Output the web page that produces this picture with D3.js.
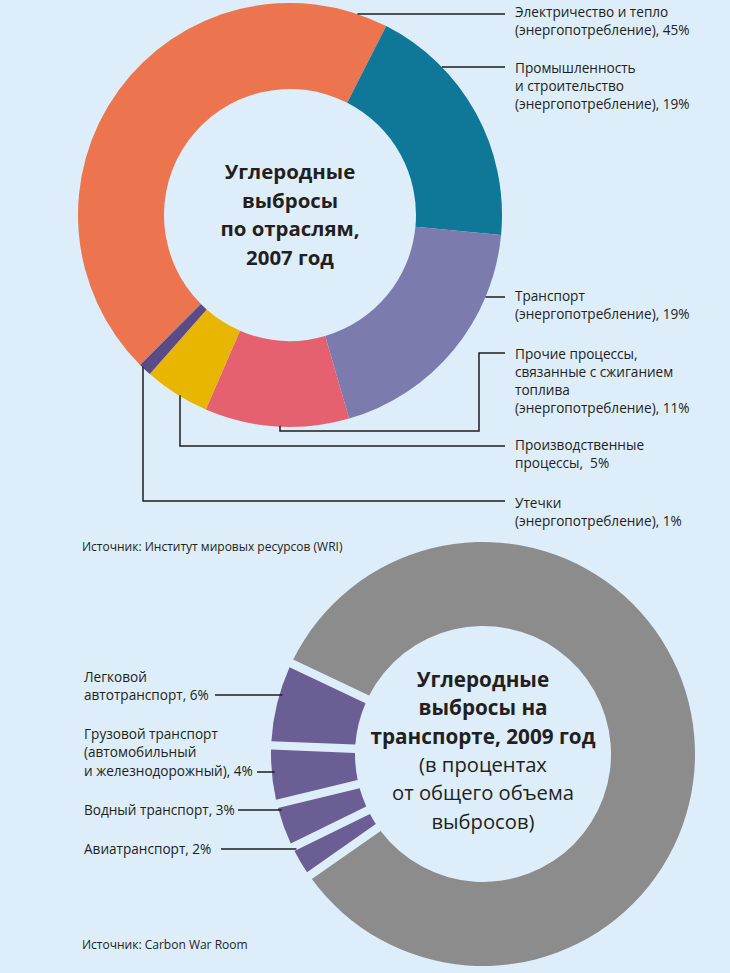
<!DOCTYPE html>
<html>
<head>
<meta charset="utf-8">
<script src="https://cdn.jsdelivr.net/npm/d3@7"></script>
<style>
html,body{margin:0;padding:0;background:#ddedfa;}
svg{display:block;}
text{font-family:"Open Sans",sans-serif;fill:#231f20;white-space:pre;}
</style>
</head>
<body>
<div id="chart"></div>
<script>
// ---------- DATA ----------
const sectorNames = ["Электричество и тепло", "Промышленность и строительство", "Транспорт",
  "Прочие процессы, связанные с сжиганием топлива", "Производственные процессы", "Утечки"];
const sectorShares = [45, 19, 19, 11, 5, 1];
const sectorLabelLines = [
  ["Электричество и тепло", "(энергопотребление), 45%"],
  ["Промышленность", "и строительство", "(энергопотребление), 19%"],
  ["Транспорт", "(энергопотребление), 19%"],
  ["Прочие процессы,", "связанные с сжиганием", "топлива", "(энергопотребление), 11%"],
  ["Производственные", "процессы,  5%"],
  ["Утечки", "(энергопотребление), 1%"]
];
const sectorTitle = ["Углеродные", "выбросы", "по отраслям,", "2007 год"];
const sectorSource = "Источник: Институт мировых ресурсов (WRI)";

const transportNames = ["Легковой автотранспорт", "Грузовой транспорт", "Водный транспорт", "Авиатранспорт", "Прочие выбросы"];
const transportShares = [6, 4, 3, 2, 85];
const transportLabelLines = [
  ["Легковой", "автотранспорт, 6%"],
  ["Грузовой транспорт", "(автомобильный", "и железнодорожный), 4%"],
  ["Водный транспорт, 3%"],
  ["Авиатранспорт, 2%"]
];
const transportTitleBold = ["Углеродные", "выбросы на", "транспорте, 2009 год"];
const transportTitleRegular = ["(в процентах", "от общего объема", "выбросов)"];
const transportSource = "Источник: Carbon War Room";

// ---------- STYLE / LAYOUT ----------
const W = 730, H = 973;
const sectorColors = ["#ec7550", "#0f7797", "#7c7bae", "#e5616f", "#e8b600", "#5a4a86"];
const transportColors = ["#6b5e94", "#6b5e94", "#6b5e94", "#6b5e94", "#8c8c8c"];
const bg = "#ddedfa";
const lineColor = "#1e1e1e";

const svg = d3.select("#chart").append("svg").attr("width", W).attr("height", H);
svg.append("rect").attr("width", W).attr("height", H).attr("fill", bg);

const deg = Math.PI / 180;

// ===== Top donut =====
const c1 = {x: 290, y: 215};
const r1 = d3.scaleLinear().domain([0, 1]).range([0, 212]); // radius scale
const R1 = r1(1), r1in = r1(126 / 212);
const pie1 = d3.pie().sort(null).value(d => d)
  .startAngle(-135 * deg).endAngle(225 * deg);
const arc1 = d3.arc().innerRadius(r1in).outerRadius(R1);
const g1 = svg.append("g").attr("transform", `translate(${c1.x},${c1.y})`);
g1.selectAll("path").data(pie1(sectorShares)).join("path")
  .attr("d", arc1).attr("fill", (d, i) => sectorColors[i]);

const t1 = svg.append("text").attr("text-anchor", "middle")
  .attr("font-weight", 700).attr("font-size", 20.4);
sectorTitle.forEach((s, i) => t1.append("tspan").attr("x", c1.x).attr("y", c1.y - 36 + i * 28.6).text(s));

// labels
const labelX = 515, lineEnd = 505, lh1 = 18;
const labelTop = [12, 68, 296, 354, 445, 503];
sectorLabelLines.forEach((lines, i) => {
  const t = svg.append("text").attr("font-size", 13.6);
  lines.forEach((s, j) => t.append("tspan").attr("x", labelX).attr("y", labelTop[i] + j * lh1).attr("dy", "0.35em").text(s));
});
// edge helpers
const edgeXRight = y => c1.x + Math.sqrt(R1 * R1 - (y - c1.y) ** 2);
const edgeYBottom = x => c1.y + Math.sqrt(R1 * R1 - (x - c1.x) ** 2);
const leaders1 = [
  [[edgeXRight(14), 14], [lineEnd, 14]],
  [[edgeXRight(67), 67], [lineEnd, 67]],
  [[edgeXRight(297), 297], [lineEnd, 297]],
  [[280, edgeYBottom(280) - 1], [280, 431], [479, 431], [479, 353], [lineEnd, 353]],
  [[180, edgeYBottom(180) - 1], [180, 446], [lineEnd, 446]],
  [[143, edgeYBottom(143) - 1], [143, 501], [lineEnd, 501]]
];
const line = d3.line();
svg.append("g").selectAll("path").data(leaders1).join("path")
  .attr("d", line).attr("fill", "none").attr("stroke", lineColor).attr("stroke-width", 1.5);

svg.append("text").attr("x", 82).attr("y", 547).attr("dy", "0.35em")
  .attr("font-size", 12).text(sectorSource);

// ===== Bottom donut =====
const c2 = {x: 483, y: 754};
const r2 = d3.scaleLinear().domain([0, 1]).range([0, 212]);
const R2 = r2(1), r2in = r2(128 / 212);
const start2 = 295.3 * deg;
const pie2 = d3.pie().sort(null).value(d => d)
  .startAngle(start2).endAngle(start2 - 2 * Math.PI).padAngle(0.034);
const arc2 = d3.arc().innerRadius(r2in).outerRadius(R2);
const g2 = svg.append("g").attr("transform", `translate(${c2.x},${c2.y})`);
g2.selectAll("path").data(pie2(transportShares)).join("path")
  .attr("d", arc2).attr("fill", (d, i) => transportColors[i]);

const t2 = svg.append("text").attr("text-anchor", "middle");
transportTitleBold.forEach((s, i) => t2.append("tspan").attr("x", c2.x).attr("y", 687 + i * 28.3)
  .attr("font-weight", 700).attr("font-size", 20.7).text(s));
transportTitleRegular.forEach((s, i) => t2.append("tspan").attr("x", c2.x).attr("y", 687 + (i + 3) * 28.3)
  .attr("font-weight", 400).attr("font-size", 20.2).text(s));

const label2X = 84, lh2 = 18.7;
const label2Top = [677, 734, 810, 849];
const lineY2 = [695, 772, 810, 849];
const textEnd2 = [215, 257, 238, 221];
transportLabelLines.forEach((lines, i) => {
  const t = svg.append("text").attr("font-size", 13.6);
  lines.forEach((s, j) => t.append("tspan").attr("x", label2X).attr("y", label2Top[i] + j * lh2).attr("dy", "0.35em").text(s));
});
const edgeXLeft = y => c2.x - Math.sqrt(R2 * R2 - (y - c2.y) ** 2);
svg.append("g").selectAll("path").data(lineY2.map((y, i) => [[textEnd2[i], y], [edgeXLeft(y) + 3, y]]))
  .join("path").attr("d", line).attr("fill", "none").attr("stroke", lineColor).attr("stroke-width", 1.5);

svg.append("text").attr("x", 82).attr("y", 945).attr("dy", "0.35em")
  .attr("font-size", 12).text(transportSource);
</script>
</body>
</html>
